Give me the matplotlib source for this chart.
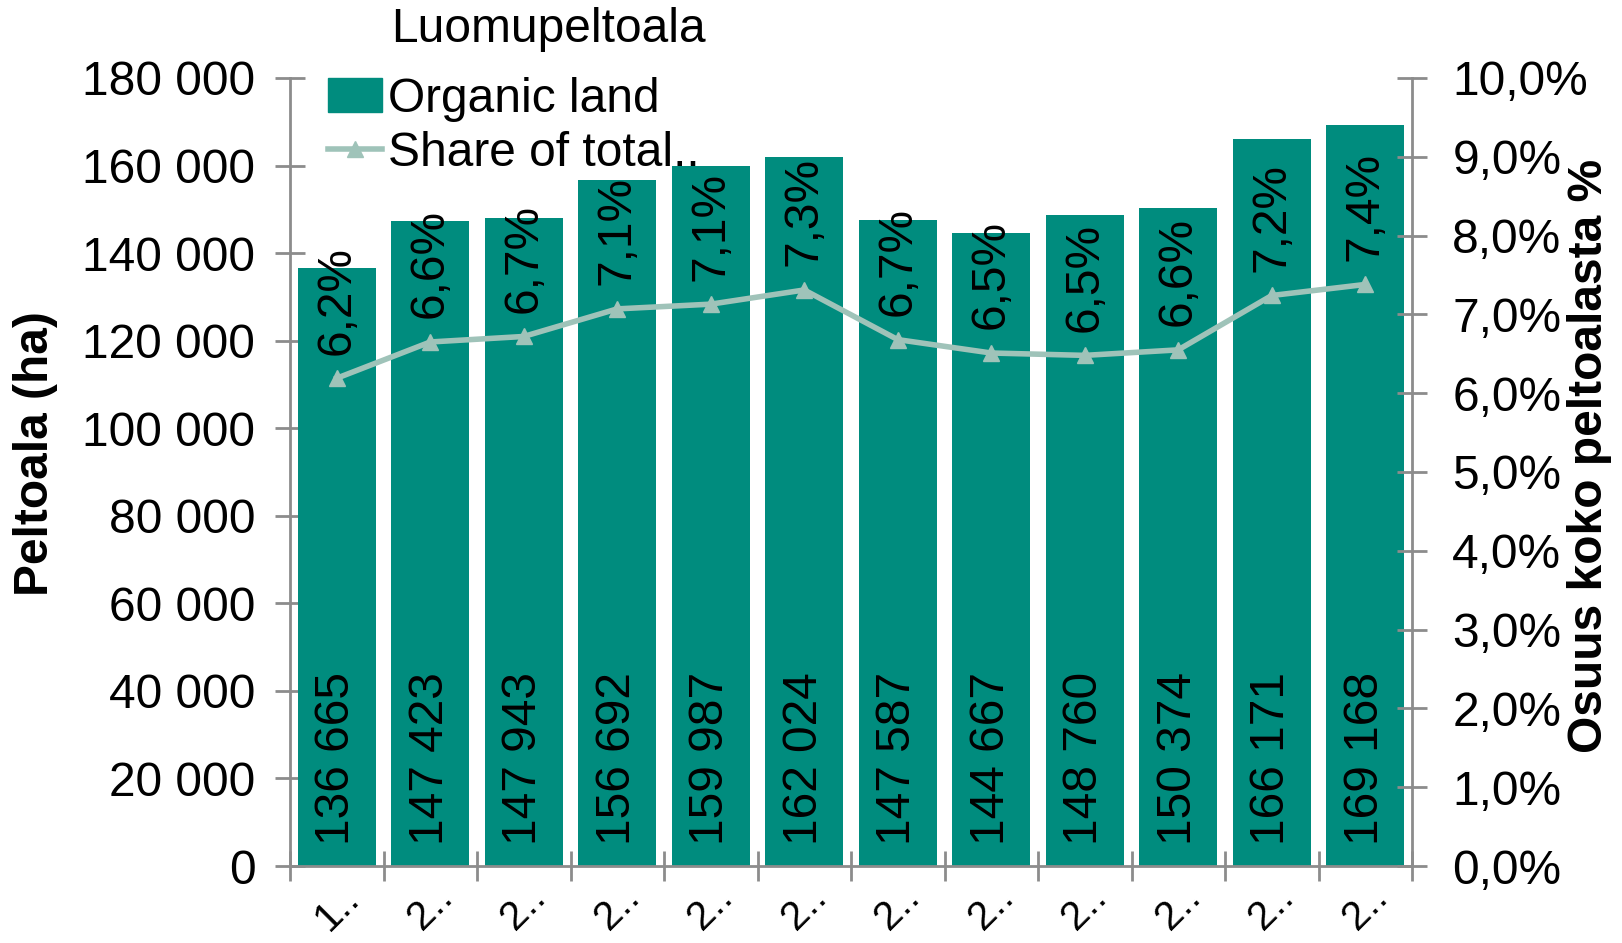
import matplotlib.pyplot as plt
from matplotlib.patches import Patch
from matplotlib.lines import Line2D

# ---------------------------------
# Data
# ---------------------------------
tick_labels = ["1..", "2..", "2..", "2..", "2..", "2..", "2..", "2..", "2..", "2..", "2..", "2.."]
organic_land = [136665, 147423, 147943, 156692, 159987, 162024,
                147587, 144667, 148760, 150374, 166171, 169168]
share_pct = [6.19, 6.65, 6.72, 7.07, 7.13, 7.31, 6.68, 6.51, 6.48, 6.55, 7.24, 7.38]
share_labels = ["6,2%", "6,6%", "6,7%", "7,1%", "7,1%", "7,3%",
                "6,7%", "6,5%", "6,5%", "6,6%", "7,2%", "7,4%"]

BAR_COLOR = "#008C7E"
LINE_COLOR = "#9FC3B9"
AXIS_COLOR = "#8C8C8C"
FS = 34.5

plt.rcParams['font.family'] = ['Liberation Sans', 'DejaVu Sans']

fig = plt.figure(figsize=(16.22, 9.43), dpi=100)
ax = fig.add_axes([290/1622, 1-866/943, (1412-290)/1622, (866-78)/943])
ax2 = ax.twinx()

x = list(range(len(organic_land)))
ax.bar(x, organic_land, width=0.83, color=BAR_COLOR, zorder=2)
ax.set_ylim(0, 180000)
ax.set_xlim(-0.5, len(x) - 0.5)
ax.set_yticks(range(0, 180001, 20000))
ax.set_yticklabels([f"{v:,}".replace(",", " ") for v in range(0, 180001, 20000)])

ax2.plot(x, [p / 100 for p in share_pct], color=LINE_COLOR, lw=4,
         marker='^', markersize=12, zorder=3)
ax2.set_ylim(0, 0.10)
ax2.set_yticks([i / 100 for i in range(0, 11)])
ax2.set_yticklabels([f"{i},0%" for i in range(0, 11)])
ax2.set_zorder(ax.get_zorder() + 1)
ax2.patch.set_visible(False)

# value labels at bar base
for i, v in enumerate(organic_land):
    ax.annotate(f"{v:,}".replace(",", " "), (i, 0), xytext=(0, 15),
                textcoords='offset points', rotation=90, ha='center', va='bottom',
                fontsize=FS, zorder=4)

# percent labels above the line
for i, p in enumerate(share_pct):
    ax2.annotate(share_labels[i], (i, p / 100), xytext=(0, 17),
                 textcoords='offset points', rotation=90, ha='center', va='bottom',
                 fontsize=FS, zorder=5)

# axes styling
for a in (ax, ax2):
    a.spines['top'].set_visible(False)
    for s in ('left', 'right', 'bottom'):
        a.spines[s].set_color(AXIS_COLOR)
        a.spines[s].set_linewidth(2)
ax.spines['right'].set_visible(False)
ax2.spines['left'].set_visible(False)
ax2.spines['bottom'].set_visible(False)

ax.tick_params(axis='y', direction='inout', length=22, width=2, color=AXIS_COLOR,
               labelsize=FS, pad=14)
ax2.tick_params(axis='y', direction='inout', length=22, width=2, color=AXIS_COLOR,
                labelsize=FS, pad=18)

ax.set_xticks(x)
ax.set_xticklabels(tick_labels, rotation=45, fontsize=FS * 0.85,
                   rotation_mode='anchor', ha='center', va='center')
ax.tick_params(axis='x', which='major', length=0, pad=30)
ax.set_xticks([i - 0.5 for i in range(len(x) + 1)], minor=True)
ax.tick_params(axis='x', which='minor', direction='inout', length=22, width=2,
               color=AXIS_COLOR)

fig.text(36/1622, 1-454/943, "Peltoala (ha)", rotation=90, ha='center', va='center',
         fontsize=FS, fontweight='bold')
fig.text(1590/1622, 1-456/943, "Osuus koko peltoalasta %", rotation=90, ha='center',
         va='center', fontsize=FS, fontweight='bold')
fig.text(548/1622, 1-30/943, "Luomupeltoala", ha='center', va='center', fontsize=FS)

handles = [Patch(color=BAR_COLOR),
           Line2D([], [], color=LINE_COLOR, lw=4, marker='^', markersize=12)]
fig.legend(handles, ["Organic land", "Share of total.."], loc='upper left',
           bbox_to_anchor=(328/1622, 1-77/943), frameon=False, fontsize=FS,
           handlelength=1.13, handletextpad=0.12, labelspacing=0.18,
           borderaxespad=0, borderpad=0)

fig.savefig("out.png", dpi=100)
